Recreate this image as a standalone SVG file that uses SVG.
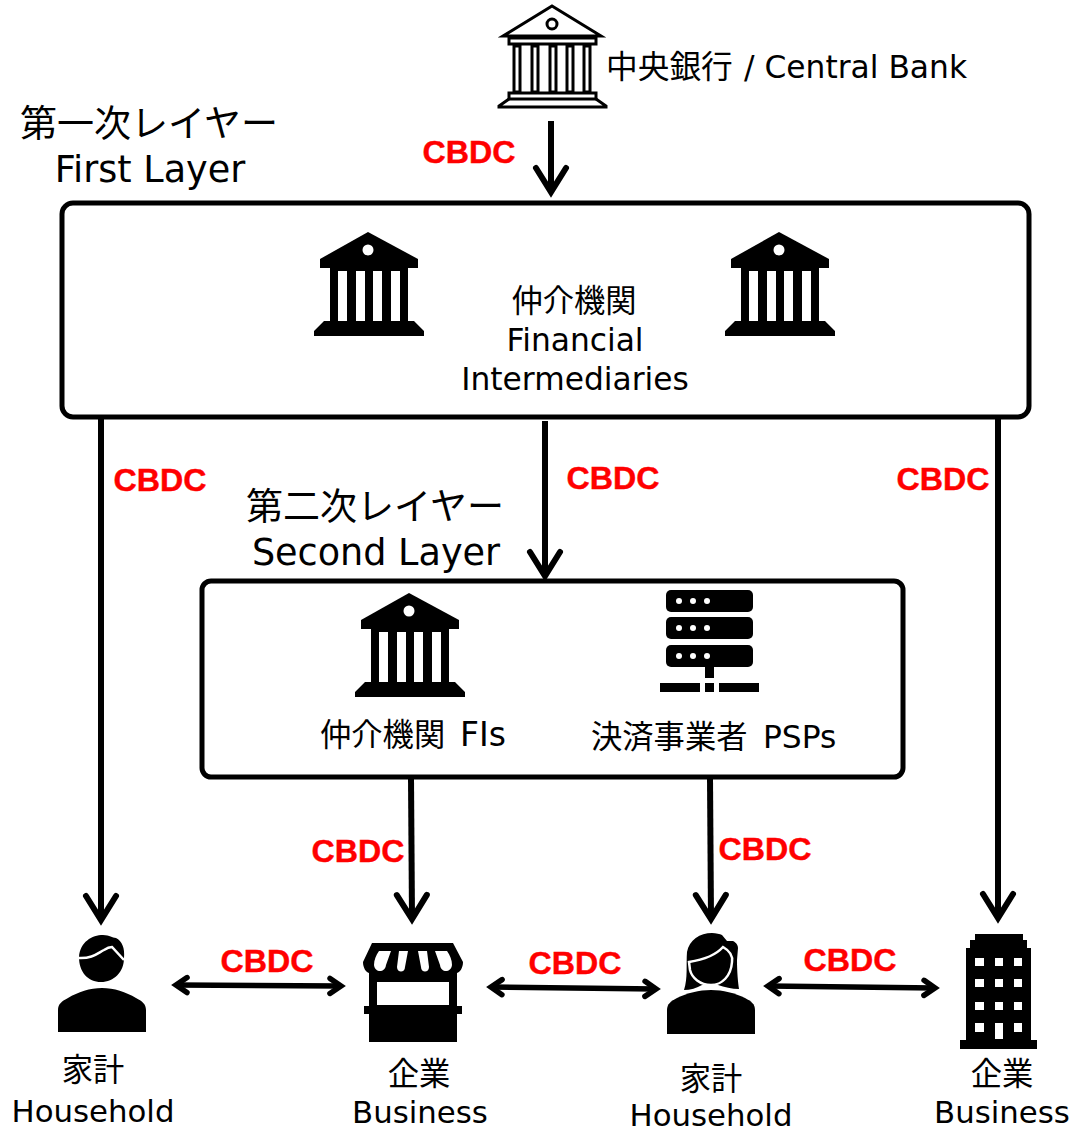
<svg xmlns="http://www.w3.org/2000/svg" width="1072" height="1128" viewBox="0 0 1072 1128">
<style>
text{font-family:"DejaVu Sans","Noto Sans CJK JP",sans-serif;fill:#000;text-anchor:middle}
.s{text-anchor:start}
.t37{font-size:37px}.t36{font-size:36.6px}.t31{font-size:31.3px}.t30{font-size:30.8px}
.cbdc{font-family:"Liberation Sans",Arial,sans-serif;font-weight:bold;font-size:32.2px;fill:#f00;stroke:#f00;stroke-width:.4}
.box{fill:#fff;stroke:#000;stroke-width:5}
.c{fill:none;stroke:#000;stroke-width:6}
.d{fill:none;stroke:#000;stroke-width:5.5}
.o{fill:none;stroke:#000;stroke-width:3}
.w{fill:#fff}
</style>
<defs>
<marker id="open" markerUnits="userSpaceOnUse" markerWidth="46" markerHeight="46" refX="38" refY="23" orient="auto-start-reverse"><path d="M14 8 L38 23 L14 38" fill="none" stroke="#000" stroke-width="6" stroke-linecap="round"/></marker>
<marker id="small" markerUnits="userSpaceOnUse" markerWidth="32" markerHeight="32" refX="22" refY="16" orient="auto-start-reverse"><path d="M11 8.5 L22 16 L11 23.5" fill="none" stroke="#000" stroke-width="5.5" stroke-linecap="round"/></marker>
<g id="bank">
<path d="M368 232 L418 259 V268 H320 V259 Z"/>
<path d="M330 268 H408 V321 H414 L424 331 V336 H314 V331 L324 321 H330 Z"/>
<path class="w" d="M338 271 h9 v50 h-9z M356 271 h9 v50 h-9z M373 271 h9 v50 h-9z M391 271 h9 v50 h-9z"/>
<circle class="w" cx="368" cy="250" r="5.5"/>
</g>
</defs>

<g id="first-layer-box"><rect class="box" x="62" y="203" width="967" height="214" rx="11"/></g>
<g id="second-layer-box"><rect class="box" x="202" y="581" width="701" height="196" rx="9"/></g>

<g id="connectors">
<path class="c" marker-end="url(#open)" d="M551 121 V192"/>
<path class="c" marker-end="url(#open)" d="M545 421 V576"/>
<path class="c" marker-end="url(#open)" d="M101 418 V920"/>
<path class="c" marker-end="url(#open)" d="M998 415 V918"/>
<path class="c" marker-end="url(#open)" d="M411 778 L412 919"/>
<path class="c" marker-end="url(#open)" d="M710 778 L711 919"/>
<path class="d" marker-start="url(#small)" marker-end="url(#small)" d="M176 985 L341 986"/>
<path class="d" marker-start="url(#small)" marker-end="url(#small)" d="M491 987 L656 989"/>
<path class="d" marker-start="url(#small)" marker-end="url(#small)" d="M768 986 L935 988"/>
</g>

<g id="central-bank">
<path class="o" d="M552 6 L601 36 H503 Z"/>
<circle class="o" cx="552" cy="24" r="5"/>
<path class="o" d="M509 38 H596 V44 H509 Z"/>
<path class="o" d="M514 46 h6 v46 h-6z M532 46 h6 v46 h-6z M550 46 h6 v46 h-6z M567 46 h6 v46 h-6z M584 46 h6 v46 h-6z"/>
<path class="o" d="M509 93 H596 V99 H509 Z"/>
<path class="o" d="M509 99 L499 106 V107 H606 V106 L596 99"/>
<text y="78" class="s" font-size="31.7"><tspan x="606">中央銀行</tspan><tspan x="744" font-size="31.3">/ Central Bank</tspan></text>
</g>

<g id="first-layer-label">
<text class="t37" x="149" y="137">第一次レイヤー</text>
<text class="t36" x="150" y="182">First Layer</text>
</g>

<g id="fi-bank-left"><use href="#bank"/></g>
<g id="fi-bank-right"><use href="#bank" x="411"/></g>
<g id="fi-label">
<text class="t31" x="574" y="312">仲介機関</text>
<text class="t31" x="575" y="351">Financial</text>
<text class="t31" x="575" y="390">Intermediaries</text>
</g>

<g id="second-layer-label">
<text class="t37" x="375" y="520">第二次レイヤー</text>
<text class="t36" x="376" y="565">Second Layer</text>
</g>

<g id="fi-second">
<use href="#bank" x="41" y="361"/>
<text class="s t31" y="746"><tspan x="320">仲介機関</tspan><tspan x="460" font-size="33">FIs</tspan></text>
</g>

<g id="psp">
<rect x="666" y="590" width="87" height="22" rx="5"/>
<rect x="666" y="617" width="87" height="22" rx="5"/>
<rect x="666" y="645" width="87" height="22" rx="5"/>
<g class="w"><circle cx="679" cy="601" r="3"/><circle cx="693" cy="601" r="3"/><circle cx="707" cy="601" r="3"/><circle cx="679" cy="628" r="3"/><circle cx="693" cy="628" r="3"/><circle cx="707" cy="628" r="3"/><circle cx="679" cy="656" r="3"/><circle cx="693" cy="656" r="3"/><circle cx="707" cy="656" r="3"/></g>
<path d="M705 667 h9 v11 h-9z M660 683 h40 v9 h-40z M705 683 h9 v9 h-9z M719 683 h40 v9 h-40z"/>
<text class="s t31" y="748"><tspan x="591">決済事業者</tspan><tspan x="763">PSPs</tspan></text>
</g>

<g id="household-1">
<path d="M79 957 C80 942 92 935 103 935 C110 935 112 938 116 938 C122 941 125 948 124 958 C124 972 114 982 101 982 C88 982 79 972 79 957 Z"/>
<path d="M78 958 C92 959 98 953 104 950 C107 948 110 947 112 947 L124 960" fill="none" stroke="#fff" stroke-width="2.5"/>
<path d="M58 1032 V1010 C58 1004 62 1001 68 998 C78 992 90 988 102 988 C114 988 126 992 136 998 C142 1001 146 1004 146 1010 V1032 Z"/>
<text class="t31" x="93" y="1081">家計</text>
<text class="t30" x="93" y="1122">Household</text>
</g>

<g id="business-1">
<path d="M372 943 H453 L463 962 C463 968 460 972 457 973 V1006 H462 V1014 H457 V1042 H369 V1014 H364 V1006 H369 V973 C366 972 363 968 363 962 Z"/>
<path class="w" d="M377 982 H449 V1005 H377 Z"/>
<path class="w" d="M379 951 H391 L386 965 C385 973 375 973 374 965 C374 960 376 955 379 951 Z M399 951 H408 L405 967 C405 973 397 973 397 967 Z M418 951 H427 L429 967 C429 973 421 973 421 967 Z M435 951 H447 C450 955 452 960 452 965 C451 973 441 973 440 965 Z"/>
<text class="t31" x="419" y="1085">企業</text>
<text class="t30" x="420" y="1123">Business</text>
</g>

<g id="household-2">
<path d="M684 990 C688 978 686 965 687 952 C689 940 700 933 712 933 C716 933 720 934 722 935 L727 941 H733 C737 943 738 946 738 948 L737 960 C737 972 738 982 739 989 C732 989 724 987 718 985 H702 C697 988 690 990 684 990 Z"/>
<path d="M689 962 C702 960 715 956 723 947 C730 951 733 956 732 962 C731 976 722 985 711 985 C700 985 692 978 690 970 Z" stroke="#fff" stroke-width="2.5"/>
<path d="M667 1034 V1010 C667 1004 671 1001 677 998 C687 993 699 990 711 990 C723 990 735 993 745 998 C751 1001 755 1004 755 1010 V1034 Z"/>
<text class="t31" x="711" y="1090">家計</text>
<text class="t30" x="711" y="1126">Household</text>
</g>

<g id="business-2">
<path d="M975 934 H1023 V940 H1027 V948 H1031 V1040 H1037 V1049 H960 V1040 H966 V948 H970 V940 H975 Z"/>
<path class="w" d="M975 958 h9 v8 h-9z M995 958 h8 v8 h-8z M1014 958 h8 v8 h-8z M975 979 h9 v8 h-9z M995 979 h8 v8 h-8z M1014 979 h8 v8 h-8z M975 1002 h9 v8 h-9z M995 1002 h8 v8 h-8z M1014 1002 h8 v8 h-8z M975 1023 h9 v9 h-9z M995 1023 h8 v16 h-8z M1014 1023 h8 v9 h-8z"/>
<text class="t31" x="1002" y="1085">企業</text>
<text class="t30" x="1002" y="1123">Business</text>
</g>

<g id="cbdc-labels">
<text class="cbdc" x="469" y="163">CBDC</text>
<text class="cbdc" x="160" y="491">CBDC</text>
<text class="cbdc" x="613" y="489">CBDC</text>
<text class="cbdc" x="943" y="490">CBDC</text>
<text class="cbdc" x="358" y="862">CBDC</text>
<text class="cbdc" x="765" y="860">CBDC</text>
<text class="cbdc" x="267" y="972">CBDC</text>
<text class="cbdc" x="575" y="974">CBDC</text>
<text class="cbdc" x="850" y="971">CBDC</text>
</g>
</svg>
